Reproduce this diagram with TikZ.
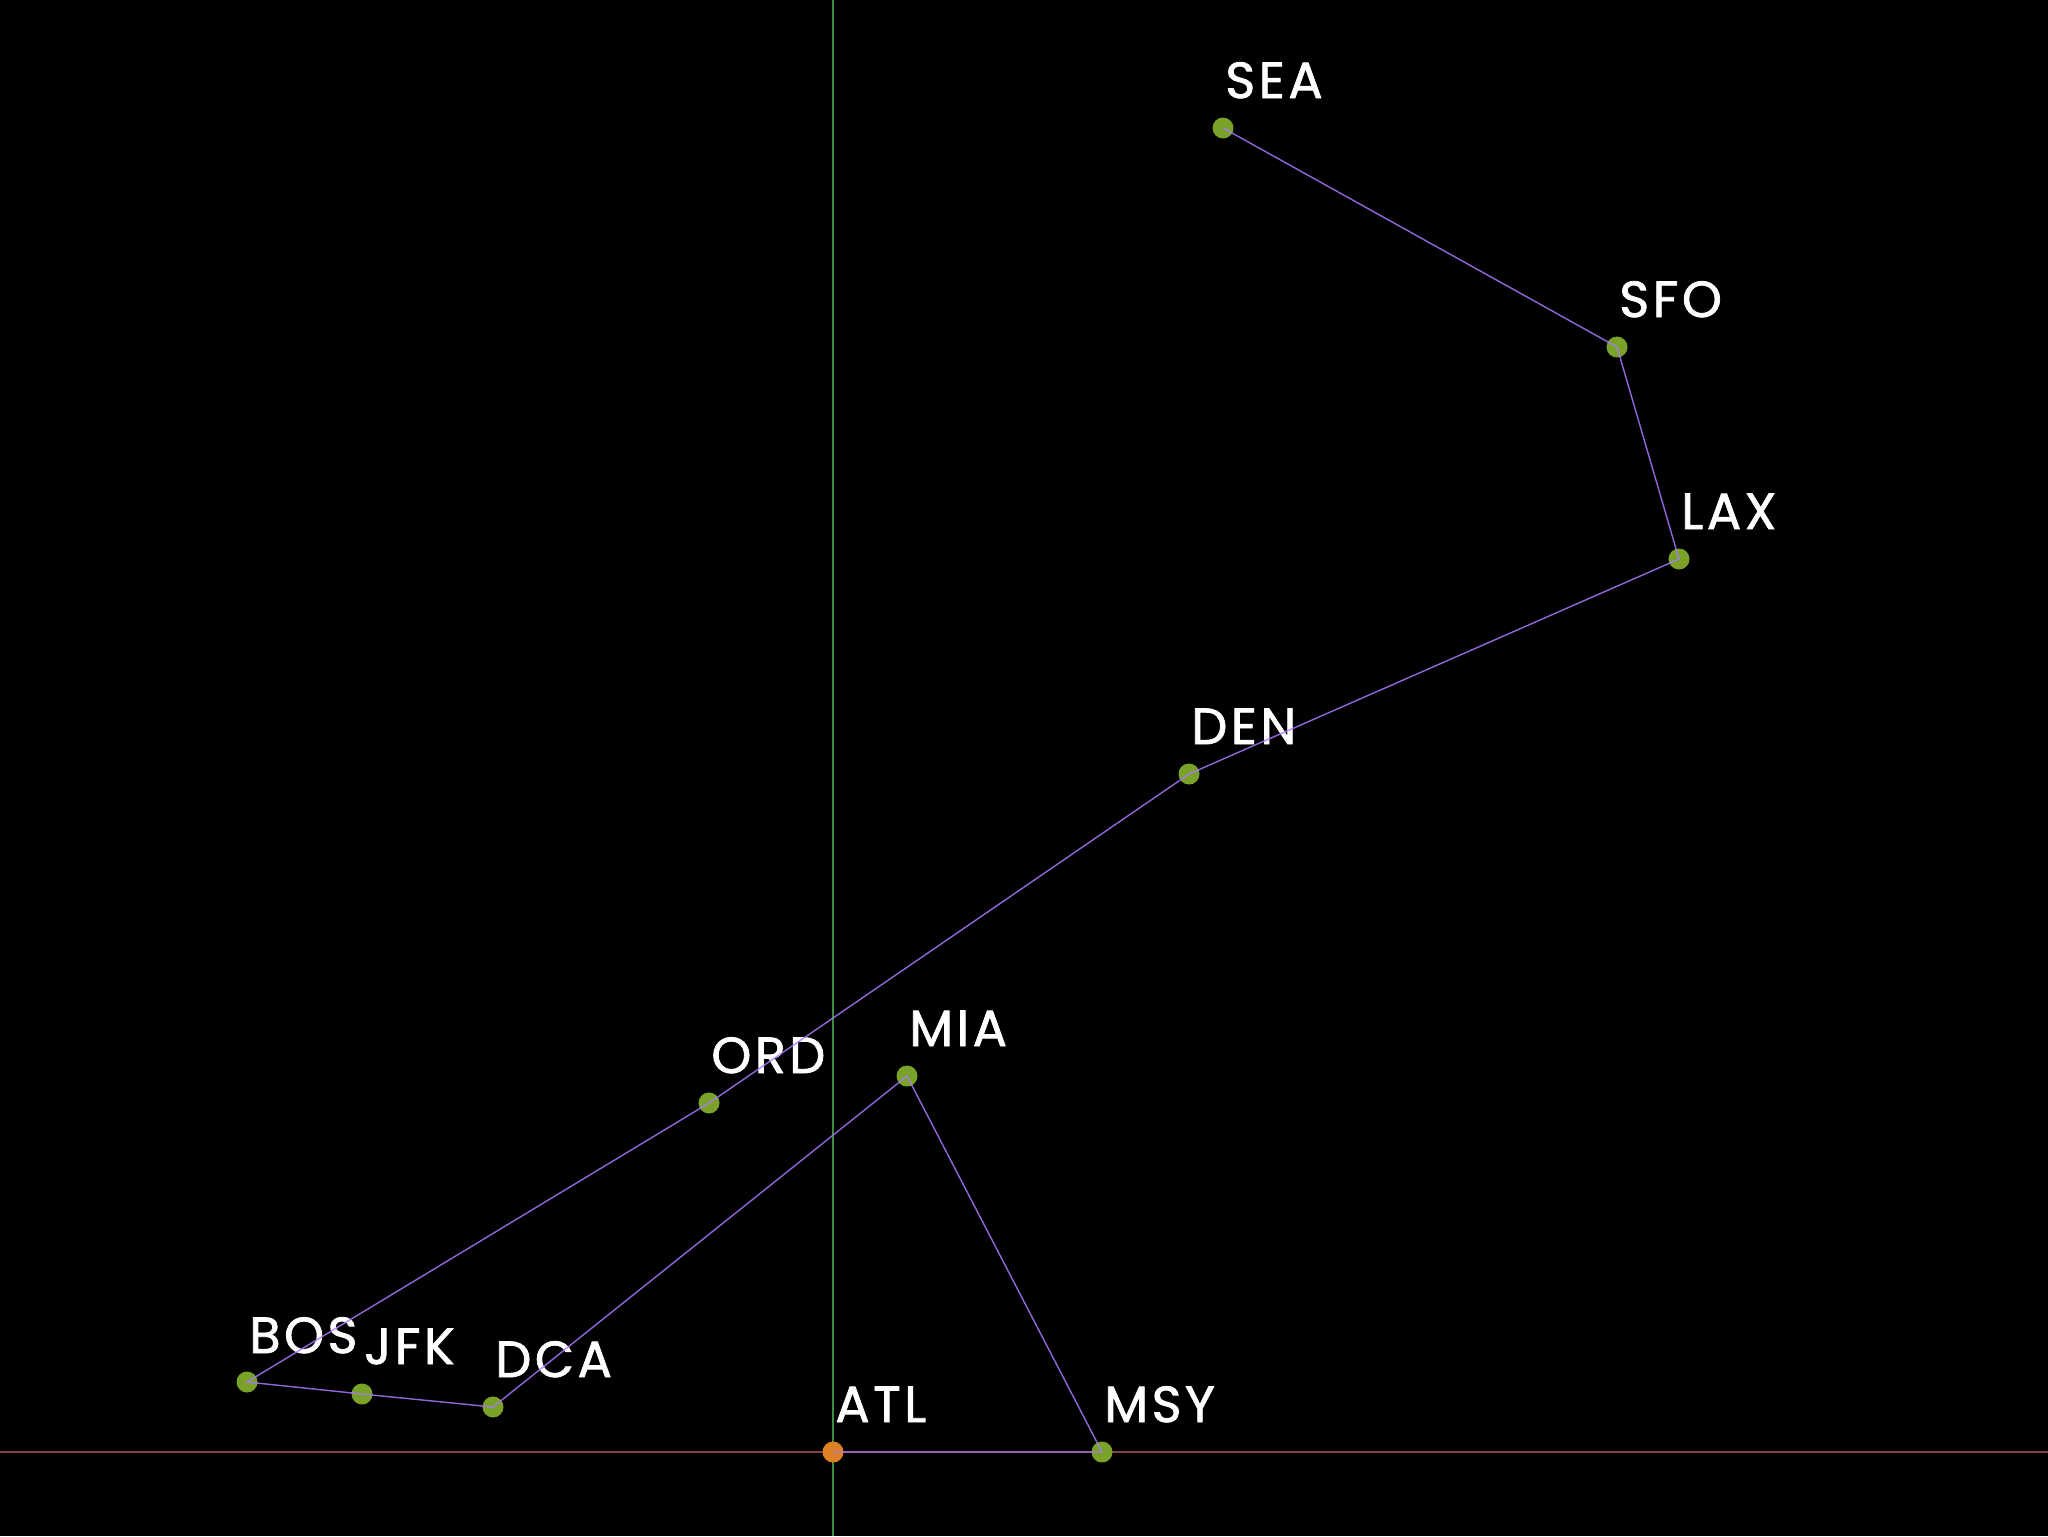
\documentclass[tikz,border=0pt]{standalone}
\usepackage{fontspec}
\setmainfont{Poppins}[LetterSpace=7, FakeBold=1.5]
\usepackage{tikz}
\usetikzlibrary{positioning}
\definecolor{bg}{RGB}{0,0,0}
\definecolor{axisgreen}{RGB}{62,140,62}
\definecolor{axisred}{RGB}{130,66,66}
\definecolor{route}{RGB}{170,122,255}
\definecolor{aptgreen}{RGB}{122,162,40}
\definecolor{aptorange}{RGB}{222,128,38}

\begin{document}
\begin{tikzpicture}[x=0.5bp, y=-0.5bp,
    apt/.style={circle, fill=aptgreen, inner sep=0pt, minimum size=10.5bp},
    hub/.style={apt, fill=aptorange},
    code/.style={anchor=base west, text=white, font=\fontsize{25.5}{30}\selectfont, inner sep=0pt},
    leg/.style={draw=route, line width=0.7bp, draw opacity=0.85}]
    \fill[bg] (0,0) rectangle (2048,1536);
    \useasboundingbox (0,0) rectangle (2048,1536);
    % axes
    \draw[axisgreen, line width=1.4bp] (833,0) -- (833,1536);
    \draw[axisred, line width=1.4bp] (0,1452) -- (2048,1452);
    % airports
    \node[apt] (SEA) at (1223,128) {};
    \node[apt] (SFO) at (1617,347) {};
    \node[apt] (LAX) at (1679,559) {};
    \node[apt] (DEN) at (1189,774) {};
    \node[apt] (ORD) at (709,1103) {};
    \node[apt] (MIA) at (907,1076) {};
    \node[apt] (BOS) at (247,1382) {};
    \node[apt] (JFK) at (362,1394) {};
    \node[apt] (DCA) at (493,1407) {};
    \node[apt] (MSY) at (1102,1452) {};
    \node[hub] (ATL) at (833,1452) {};
    % codes
    \node[code] (SEA-t) at (1225,98) {SEA};
    \node[code] (SFO-t) at (1619,317) {SFO};
    \node[code] (LAX-t) at (1681,529) {LAX};
    \node[code] (DEN-t) at (1191,744) {DEN};
    \node[code] (ORD-t) at (711,1073) {ORD};
    \node[code] (MIA-t) at (909,1046) {MIA};
    \node[code] (BOS-t) at (249,1353) {BOS};
    \node[code] (JFK-t) at (364,1364) {JFK};
    \node[code] (DCA-t) at (495,1377) {DCA};
    \node[code] (MSY-t) at (1104,1422) {MSY};
    \node[code] (ATL-t) at (835,1422) {ATL};
    % route
    \draw[leg] (SEA.center) -- (SFO.center) -- (LAX.center) -- (DEN.center) -- (ORD.center)
        -- (BOS.center) -- (JFK.center) -- (DCA.center) -- (MIA.center) -- (MSY.center) -- (ATL.center);
\end{tikzpicture}
\end{document}
